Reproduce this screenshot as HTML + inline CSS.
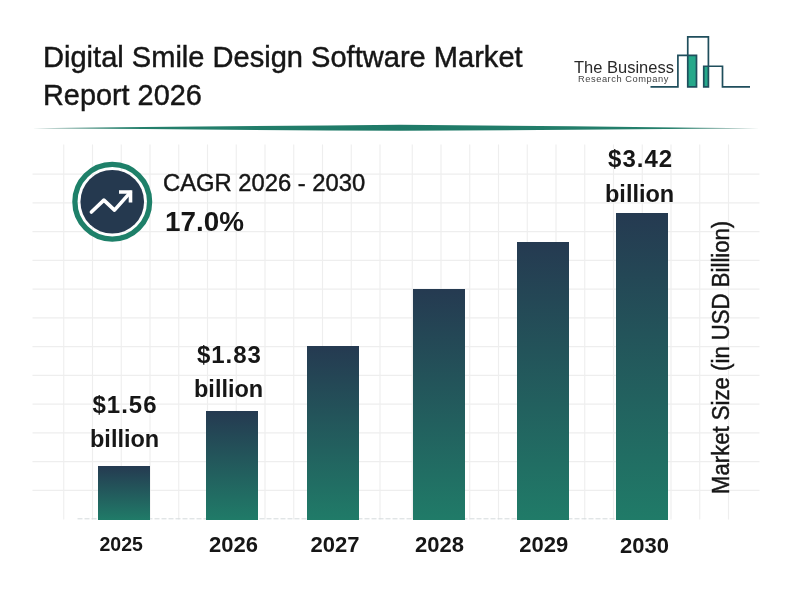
<!DOCTYPE html>
<html><head><meta charset="utf-8">
<style>
html,body{margin:0;padding:0;background:#fff;}
body{width:800px;height:600px;position:relative;overflow:hidden;font-family:"Liberation Sans",sans-serif;color:#161616;}
.t{position:absolute;white-space:nowrap;line-height:1;transform-origin:0 0;}
.b{font-weight:bold;}
.r{-webkit-text-stroke:0.45px #161616;}
.bar{position:absolute;background:linear-gradient(180deg,#253a51 0%,#207b68 100%);}
svg{position:absolute;left:0;top:0;}
</style></head><body>
<svg width="800" height="600" viewBox="0 0 800 600">
<defs>
<linearGradient id="sep" x1="0" x2="1" y1="0" y2="0">
<stop offset="0" stop-color="#5d8f85"/><stop offset="0.12" stop-color="#25806c"/><stop offset="0.5" stop-color="#1f7a68"/><stop offset="0.88" stop-color="#25806c"/><stop offset="1" stop-color="#5d8f85"/>
</linearGradient>
</defs>
<g stroke="#eeeeee" stroke-width="1.15" fill="none">
<path d="M63.75,144.5V519.5M92.5,144.5V519.5M121.25,144.5V519.5M150,144.5V519.5M178.75,144.5V519.5M207.5,144.5V519.5M236.25,144.5V519.5M265,144.5V519.5M293.75,144.5V519.5M322.5,144.5V519.5M351.25,144.5V519.5M380,144.5V519.5M412.25,144.5V519.5M441,144.5V519.5M469.75,144.5V519.5M498.5,144.5V519.5M527.25,144.5V519.5M556,144.5V519.5M584.75,144.5V519.5M613.5,144.5V519.5M642.25,144.5V519.5M671,144.5V519.5M699.75,144.5V519.5M728.5,144.5V519.5"/>
<path d="M32.5,174.15H759.5M32.5,202.90H759.5M32.5,231.65H759.5M32.5,260.40H759.5M32.5,289.15H759.5M32.5,317.90H759.5M32.5,346.65H759.5M32.5,375.40H759.5M32.5,404.15H759.5M32.5,432.90H759.5M32.5,461.65H759.5M32.5,490.40H759.5"/>
</g>
<path d="M32,128.3 Q216,126.3 400,124.7 Q584,126.3 759,128.3 Q584,129.8 400,130.8 Q216,129.8 32,128.3 Z" fill="url(#sep)"/>
<line x1="77.5" y1="518.8" x2="668" y2="518.8" stroke="#d4dadc" stroke-width="1" stroke-dasharray="5,2"/>
<!-- CAGR icon -->
<circle cx="112.25" cy="201.75" r="37.35" fill="none" stroke="#1e8069" stroke-width="5.3"/>
<circle cx="112.25" cy="201.75" r="31.8" fill="#25394f"/>
<polyline points="91.4,212 103.9,200.1 114.5,210.1 130.3,192.4" fill="none" stroke="#fff" stroke-width="3.6" stroke-linecap="round" stroke-linejoin="round"/>
<polyline points="119,192 130.5,192 130.5,202.6" fill="none" stroke="#fff" stroke-width="3.6" stroke-linecap="butt" stroke-linejoin="miter"/>
<!-- logo -->
<rect x="687.75" y="55.4" width="8.75" height="31.5" fill="#25a88a"/>
<rect x="703.75" y="66.25" width="4.65" height="20.65" fill="#25a88a"/>
<polyline points="650.5,86.9 677.9,86.9 677.9,55.4 696.5,55.4 696.5,86.9 687.75,86.9 687.75,36.9 708.4,36.9 708.4,86.9 703.75,86.9 703.75,66.25 722.5,66.25 722.5,86.9 750,86.9" fill="none" stroke="#1f4e5c" stroke-width="1.7" stroke-linejoin="miter"/>
</svg>
<div class="bar" style="left:98.3px;top:466.3px;width:51.7px;height:53.70px"></div>
<div class="bar" style="left:206.25px;top:411.25px;width:51.75px;height:108.75px"></div>
<div class="bar" style="left:307px;top:346.25px;width:51.75px;height:173.75px"></div>
<div class="bar" style="left:413px;top:289px;width:52px;height:231.00px"></div>
<div class="bar" style="left:517px;top:242px;width:51.7px;height:278.00px"></div>
<div class="bar" style="left:616.3px;top:212.5px;width:51.8px;height:307.50px"></div>

<div class="t r" id="t1" style="left:43px;top:43px;font-size:29px;transform:scaleX(1.002)">Digital Smile Design Software Market</div>
<div class="t r" id="t2" style="left:43px;top:80.7px;font-size:29px;transform:scaleX(0.995)">Report 2026</div>
<div class="t r" id="c1" style="left:163px;top:171.3px;font-size:24px;transform:scaleX(0.991)">CAGR 2026 - 2030</div>
<div class="t b" id="c2" style="left:165px;top:208.6px;font-size:27px;transform:scaleX(1.03)">17.0%</div>

<div class="t b" id="v1a" style="left:92.5px;top:392.5px;font-size:24px;letter-spacing:1px">$1.56</div>
<div class="t b" id="v1b" style="left:89.5px;top:427.2px;font-size:24px;transform:scaleX(0.98)">billion</div>
<div class="t b" id="v2a" style="left:196.9px;top:342.5px;font-size:24px;letter-spacing:1px">$1.83</div>
<div class="t b" id="v2b" style="left:193.5px;top:377px;font-size:24px;transform:scaleX(0.98)">billion</div>
<div class="t b" id="v6a" style="left:608.1px;top:147.2px;font-size:24px;letter-spacing:1px">$3.42</div>
<div class="t b" id="v6b" style="left:604.7px;top:181.6px;font-size:24px;transform:scaleX(0.98)">billion</div>

<div class="t b" id="y1" style="left:99.5px;top:534.5px;font-size:19.5px">2025</div>
<div class="t b" id="y2" style="left:209px;top:533.8px;font-size:22px">2026</div>
<div class="t b" id="y3" style="left:310.5px;top:534.2px;font-size:22px">2027</div>
<div class="t b" id="y4" style="left:415px;top:534.2px;font-size:22px">2028</div>
<div class="t b" id="y5" style="left:519.2px;top:533.8px;font-size:22px">2029</div>
<div class="t b" id="y6" style="left:620px;top:535.0px;font-size:22px">2030</div>

<div class="t r" id="ax" style="left:709.8px;top:494.2px;font-size:23px;transform:rotate(-90deg) scaleX(0.963)">Market Size (in USD Billion)</div>

<div class="t" id="l1" style="left:573.8px;top:59.3px;font-size:17.3px;color:#2a2a2a;transform:scaleX(0.954)">The Business</div>
<div class="t" id="l2" style="left:578px;top:75.3px;font-size:9.3px;color:#444;letter-spacing:0.55px">Research Company</div>
</body></html>
